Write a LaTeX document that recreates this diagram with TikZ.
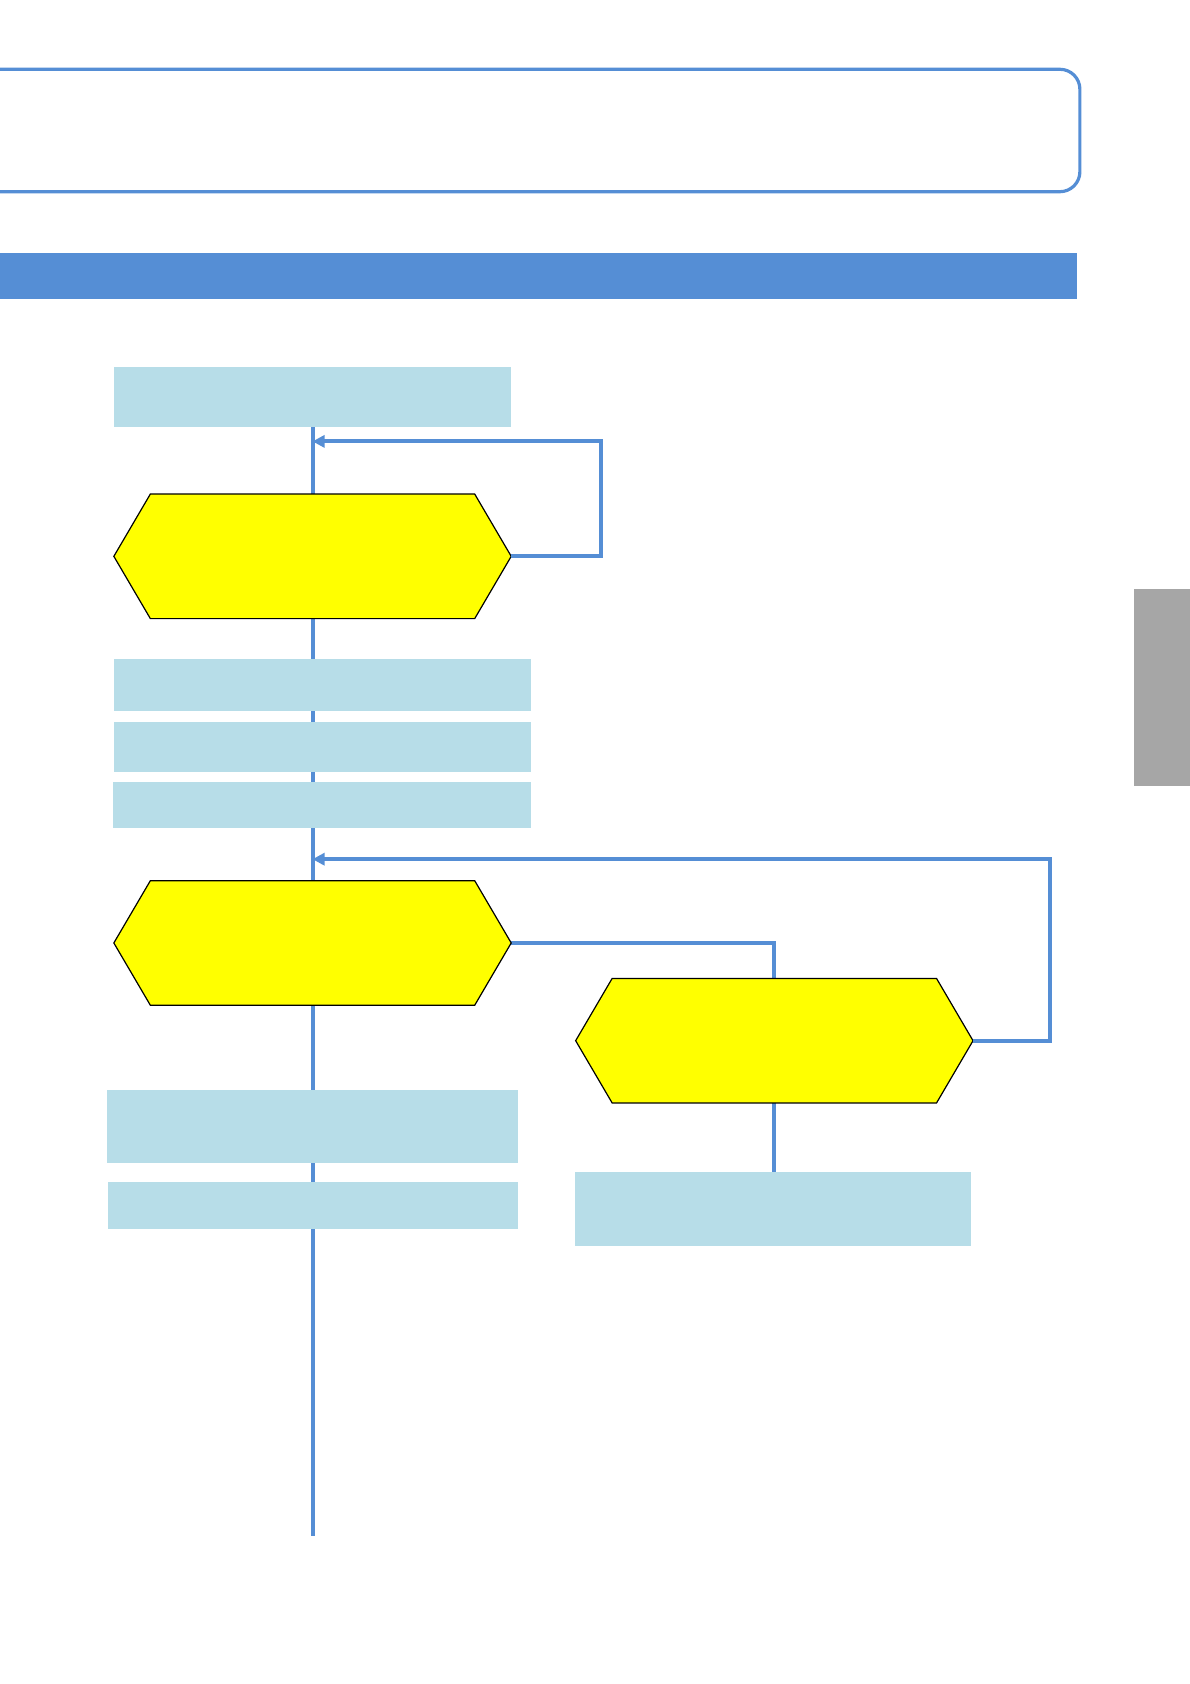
\documentclass[tikz,border=0pt]{standalone}
\usetikzlibrary{arrows.meta,backgrounds}
\definecolor{lblue}{HTML}{B7DDE8}
\definecolor{mblue}{HTML}{558ED5}
\definecolor{tabgray}{HTML}{A6A6A6}
\definecolor{hexyellow}{RGB}{255,255,0}
\def\pxu{0.53726pt}
\tikzset{
  infobox/.style={rectangle,fill=lblue,draw=none,inner sep=0pt,outer sep=0pt},
  hexbox/.style={rectangle,draw=none,inner sep=0pt,outer sep=0pt,minimum width=370*\pxu,minimum height=116*\pxu},
  hexdraw/.style={fill=hexyellow,draw=black,line width=0.6pt,line join=miter},
  conn/.style={draw=mblue,line width=2pt},
  loop/.style={conn,-{Triangle[length=6pt,width=6pt]}}
}
\begin{document}
\begin{tikzpicture}[x=\pxu,y=-\pxu]
\useasboundingbox (0,0) rectangle (1108,1568);
% header frame
\node[draw=mblue,line width=1.6pt,rounded corners=10pt,inner sep=0pt,outer sep=0pt,minimum width=1024*\pxu,minimum height=114*\pxu] (frame) at (493.5,121.5) {};
% title bar
\node[fill=mblue,inner sep=0pt,minimum width=1003*\pxu,minimum height=42*\pxu] (bar) at (501.5,257) {};
% side tab
\node[fill=tabgray,inner sep=0pt,minimum width=54*\pxu,minimum height=184*\pxu] (tab) at (1083,640) {};
% boxes
\node[infobox,minimum width=370*\pxu,minimum height=56*\pxu] (b1) at (291,370) {};
\node[hexbox] (h1) at (291,518) {};
\node[infobox,minimum width=388*\pxu,minimum height=48*\pxu] (b2) at (300,638) {};
\node[infobox,minimum width=388*\pxu,minimum height=47*\pxu] (b3) at (300,695.5) {};
\node[infobox,minimum width=389*\pxu,minimum height=43*\pxu] (b4) at (299.5,749.5) {};
\node[hexbox] (h2) at (291,878) {};
\node[hexbox] (h3) at (721,969) {};
\node[infobox,minimum width=382*\pxu,minimum height=68*\pxu] (b5) at (291,1049) {};
\node[infobox,minimum width=381*\pxu,minimum height=43*\pxu] (b6) at (291.5,1122.5) {};
\node[infobox,minimum width=369*\pxu,minimum height=69*\pxu] (b7) at (719.5,1125.5) {};
% hexagon outlines
\foreach \h in {h1,h2,h3}{
  \draw[hexdraw] (\h.west) -- ([xshift=34*\pxu]\h.north west) -- ([xshift=-34*\pxu]\h.north east)
    -- (\h.east) -- ([xshift=-34*\pxu]\h.south east) -- ([xshift=34*\pxu]\h.south west) -- cycle;
}
\coordinate (j1) at (291,411);
\coordinate (r1) at (560,411);
\coordinate (j2) at (291,800);
\coordinate (r2) at (978,800);
\coordinate (endpt) at (291,1430);
\begin{scope}[on background layer]
  \draw[conn] (b1.south) -- (h1.north);
  \draw[conn] (h1.south) -- (h2.north);
  \draw[conn] (h2.south) -- (endpt);
  \draw[conn] (h2.east) -| (h3.north);
  \draw[conn] (h3.south) -- (h3.south |- b7.north);
\end{scope}
\draw[loop] (h1.east) -| (r1) -- (j1);
\draw[loop] (h3.east) -| (r2) -- (j2);
\end{tikzpicture}
\end{document}
